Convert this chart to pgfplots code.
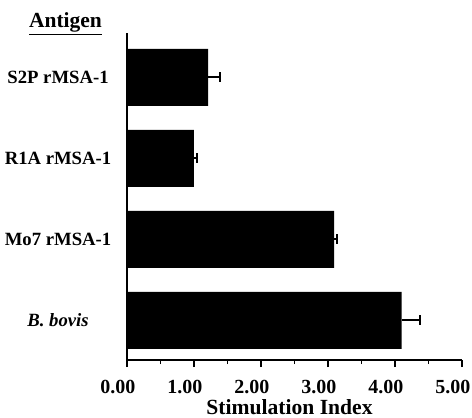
\documentclass[border=0pt]{standalone}
\usepackage{fontspec}
\setmainfont{Liberation Serif}
\usepackage{pgfplots}
\pgfplotsset{compat=1.18}

\begin{document}
\begin{tikzpicture}
\useasboundingbox (-127pt,-58pt) rectangle (345pt,360pt);
\begin{axis}[
at={(0,0)}, anchor=south west,
scale only axis,
width=335pt, height=327pt,
xbar,
bar width=57pt,
xmin=0, xmax=5,
ymin=-0.488, ymax=3.549,
axis x line*=bottom,
axis y line*=left,
axis line style={black, line width=1.8pt, -},
xtick={0,1,2,3,4,5},
minor x tick num=1,
tick align=outside,
major tick length=7pt,
minor tick length=4pt,
x tick style={black, line width=1.2pt},
ytick={0,1,2,3},
y tick style={draw=none},
yticklabels={\textit{B. bovis}, Mo7 rMSA-1, R1A rMSA-1, S2P rMSA-1},
/pgf/number format/.cd, fixed, fixed zerofill, precision=2, assume math mode=true,
/pgfplots/.cd,
xticklabel style={font=\fontsize{20}{22}\selectfont\bfseries, inner sep=0pt, anchor=north, xshift=-9pt, yshift=-13pt},
yticklabel style={font=\fontsize{18.7}{22}\selectfont\bfseries, inner sep=0pt, anchor=center, xshift=-62pt},
xlabel={Stimulation Index},
xlabel style={font=\fontsize{21.6}{24}\selectfont\bfseries, at={(axis description cs:0.485,0)}, anchor=base, yshift=-54pt, inner sep=0pt},
]
\addplot[fill=black, draw=none,
  error bars/.cd, x dir=plus, x explicit,
  error bar style={line width=2pt, black},
  error mark options={rotate=90, mark size=5pt, line width=2pt}]
coordinates {
(4.10,0) +- (0.27,0)
(3.09,1) +- (0.05,0)
(1.00,2) +- (0.04,0)
(1.21,3) +- (0.18,0)
};
\end{axis}
\node[font=\fontsize{21.5}{24}\selectfont\bfseries, anchor=base, inner sep=0pt] at (-61.5pt,332pt) {\underline{Antigen}};
\end{tikzpicture}
\end{document}
